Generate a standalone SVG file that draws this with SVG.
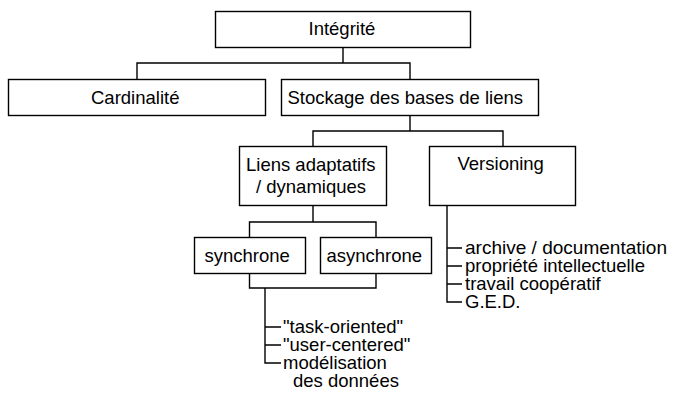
<svg xmlns="http://www.w3.org/2000/svg" width="673" height="410" viewBox="0 0 673 410">
<style>
.box{fill:#fff;stroke:#000;stroke-width:1.4}
.ln{fill:none;stroke:#000;stroke-width:1.4}
text{font-family:"Liberation Sans",Arial,sans-serif;font-size:18.5px;fill:#000}
</style>
<rect width="673" height="410" fill="#fff"/>
<g id="connectors">
<path class="ln" d="M343 47.5V63M137 79.5V63H410V79.5"/>
<path class="ln" d="M410 115.5V131M313 146.5V131H503V146.5"/>
<path class="ln" d="M313 205.5V222M249.5 237.5V222H376V237.5"/>
<path class="ln" d="M249.5 273.5V288H376V273.5M265 288V363H281M265 327H281M265 345H281"/>
<path class="ln" d="M447 205.5V302H462M447 248H462M447 266H462M447 284H462"/>
</g>
<g id="integrite"><rect class="box" x="215.5" y="11.5" width="255" height="36"/><text x="308.5" y="35">Intégrité</text></g>
<g id="cardinalite"><rect class="box" x="8.5" y="79.5" width="257" height="36"/><text x="91" y="103.5">Cardinalité</text></g>
<g id="stockage"><rect class="box" x="281.5" y="79.5" width="257" height="36"/><text x="287.5" y="103.5">Stockage des bases de liens</text></g>
<g id="liens"><rect class="box" x="239.5" y="146.5" width="147" height="59"/><text x="246" y="170.5">Liens adaptatifs</text><text x="256" y="193">/ dynamiques</text></g>
<g id="versioning"><rect class="box" x="429.5" y="146.5" width="146" height="59"/><text x="457.5" y="169.5">Versioning</text></g>
<g id="synchrone"><rect class="box" x="194.5" y="237.5" width="111" height="36"/><text x="204.5" y="261.5">synchrone</text></g>
<g id="asynchrone"><rect class="box" x="320.5" y="237.5" width="111" height="36"/><text x="326.5" y="261.5">asynchrone</text></g>
<g id="versioning-items">
<text x="465" y="253.5" textLength="202" lengthAdjust="spacingAndGlyphs">archive / documentation</text>
<text x="465" y="271.5">propriété intellectuelle</text>
<text x="465" y="289.5">travail coopératif</text>
<text x="465" y="307.5">G.E.D.</text>
</g>
<g id="sync-items">
<text x="283" y="332.5">"task-oriented"</text>
<text x="283" y="350.5">"user-centered"</text>
<text x="283" y="368.5">modélisation</text>
<text x="293" y="386.5">des données</text>
</g>
</svg>
